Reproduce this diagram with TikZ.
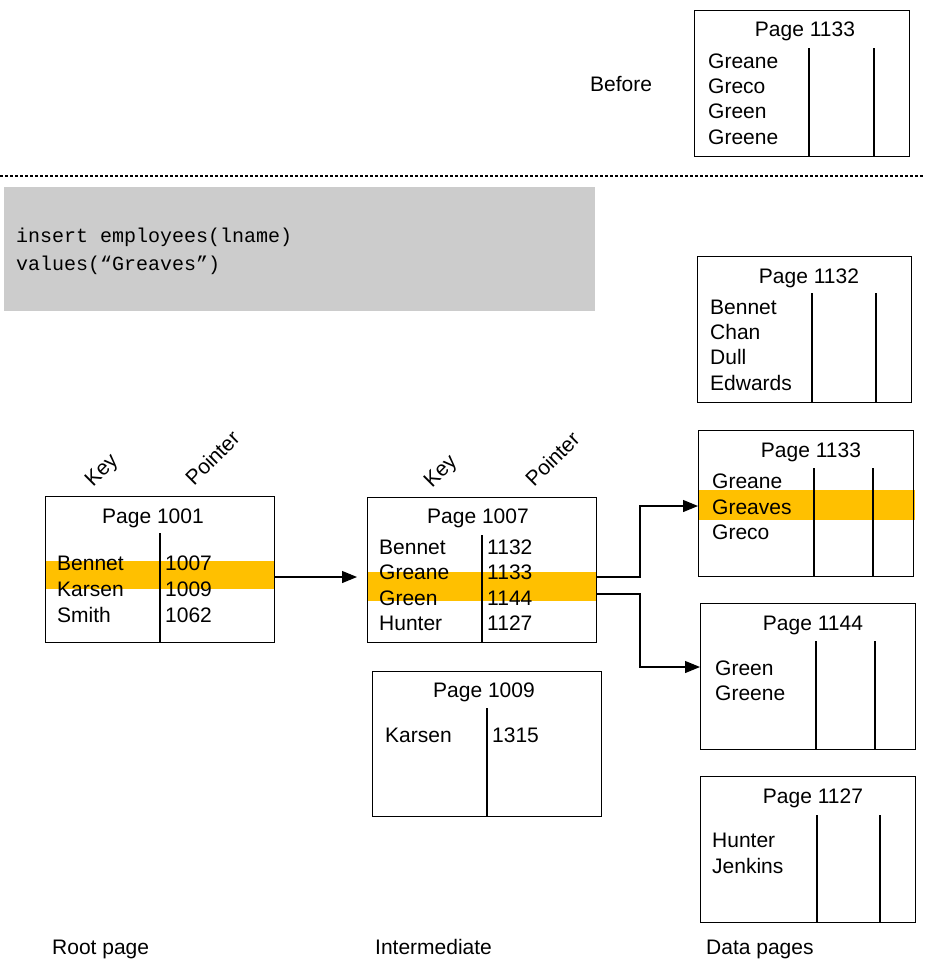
\documentclass[tikz,border=0pt]{standalone}
\usepackage{fontspec}
\setmainfont{Liberation Sans}
\setmonofont{Liberation Mono}
\usetikzlibrary{arrows.meta}
\definecolor{hilite}{HTML}{FFC000}
\definecolor{codegray}{HTML}{CCCCCC}
\tikzset{
  pagebox/.style={draw,line width=1.2pt,anchor=north west,inner sep=0pt},
  txt/.style={anchor=base west,inner sep=0pt,font=\fontsize{21}{25}\selectfont},
  ttl/.style={anchor=base,inner sep=0pt,font=\fontsize{21}{25}\selectfont},
  lbl/.style={txt,rotate=45},
  link/.style={line width=1.2pt,-{Triangle[length=15pt,width=12pt]}},
  sep/.style={line width=1.2pt}
}
\begin{document}
\begin{tikzpicture}[x=1pt,y=-1pt]
  \useasboundingbox (0,0) rectangle (925,961);
  % before
  \node[txt] (before) at (590,91) {Before};
  \node[pagebox,minimum width=215pt,minimum height=146pt] (b1133) at (694,10) {};
  \node[ttl] (tb1133) at (805,36) {Page 1133};
  \node[txt] (b1) at (708,68) {Greane};
  \node[txt] (b2) at (708,93) {Greco};
  \node[txt] (b3) at (708,118) {Green};
  \node[txt] (b4) at (708,144) {Greene};
  \draw[sep] (809,48) -- (809,156);
  \draw[sep] (874,48) -- (874,156);
  \draw[line width=1.5pt,dash pattern=on 3pt off 2pt] (0,176) -- (925,176);
  % statement
  \fill[codegray] (4,187) rectangle (595,311);
  \node[txt,font=\ttfamily\fontsize{20}{24}\selectfont] (sql1) at (16,242) {insert employees(lname)};
  \node[txt,font=\ttfamily\fontsize{20}{24}\selectfont] (sql2) at (16,270) {values(“Greaves”)};
  % highlights
  \fill[hilite] (45,561) rectangle (274,589);
  \fill[hilite] (367,572) rectangle (596,601);
  \fill[hilite] (698,490) rectangle (915,520);
  % root page
  \node[lbl] (key1) at (93,488) {Key};
  \node[lbl] (ptr1) at (194,487) {Pointer};
  \node[pagebox,minimum width=229pt,minimum height=146pt] (p1001) at (45,496) {};
  \node[ttl] (t1001) at (153,523) {Page 1001};
  \draw[sep] (160,533) -- (160,642);
  \node[txt] (r1) at (57,570) {Bennet};
  \node[txt] (r2) at (57,596) {Karsen};
  \node[txt] (r3) at (57,622) {Smith};
  \node[txt] (rp1) at (165,570) {1007};
  \node[txt] (rp2) at (165,596) {1009};
  \node[txt] (rp3) at (165,622) {1062};
  % intermediate
  \node[lbl] (key2) at (432,489) {Key};
  \node[lbl] (ptr2) at (534,488) {Pointer};
  \node[pagebox,minimum width=229pt,minimum height=145pt] (p1007) at (367,497) {};
  \node[ttl] (t1007) at (478,523) {Page 1007};
  \draw[sep] (482,535) -- (482,642);
  \node[txt] (i1) at (379,554) {Bennet};
  \node[txt] (i2) at (379,579) {Greane};
  \node[txt] (i3) at (379,605) {Green};
  \node[txt] (i4) at (379,630) {Hunter};
  \node[txt] (ip1) at (487,554) {1132};
  \node[txt] (ip2) at (487,579) {1133};
  \node[txt] (ip3) at (487,605) {1144};
  \node[txt] (ip4) at (487,630) {1127};
  \node[pagebox,minimum width=229pt,minimum height=145pt] (p1009) at (372,671) {};
  \node[ttl] (t1009) at (484,697) {Page 1009};
  \draw[sep] (487,708) -- (487,816);
  \node[txt] (j1) at (385,742) {Karsen};
  \node[txt] (jp1) at (492,742) {1315};
  % data pages
  \node[pagebox,minimum width=214pt,minimum height=146pt] (p1132) at (697,256) {};
  \node[ttl] (t1132) at (809,283) {Page 1132};
  \draw[sep] (812,293) -- (812,402);
  \draw[sep] (876,293) -- (876,402);
  \node[txt] (d1) at (710,314) {Bennet};
  \node[txt] (d2) at (710,339) {Chan};
  \node[txt] (d3) at (710,364) {Dull};
  \node[txt] (d4) at (710,390) {Edwards};
  \node[pagebox,minimum width=215pt,minimum height=146pt] (p1133) at (698,430) {};
  \node[ttl] (t1133) at (811,457) {Page 1133};
  \draw[sep] (814,468) -- (814,576);
  \draw[sep] (873,468) -- (873,576);
  \node[txt] (e1) at (712,488) {Greane};
  \node[txt] (e2) at (712,514) {Greaves};
  \node[txt] (e3) at (712,539) {Greco};
  \node[pagebox,minimum width=215pt,minimum height=146pt] (p1144) at (700,603) {};
  \node[ttl] (t1144) at (813,630) {Page 1144};
  \draw[sep] (816,641) -- (816,749);
  \draw[sep] (875,641) -- (875,749);
  \node[txt] (f1) at (715,675) {Green};
  \node[txt] (f2) at (715,700) {Greene};
  \node[pagebox,minimum width=215pt,minimum height=146pt] (p1127) at (700,776) {};
  \node[ttl] (t1127) at (813,803) {Page 1127};
  \draw[sep] (817,815) -- (817,922);
  \draw[sep] (880,815) -- (880,922);
  \node[txt] (g1) at (712,847) {Hunter};
  \node[txt] (g2) at (712,873) {Jenkins};
  % connectors
  \coordinate (o1007) at (274,577);
  \coordinate (in1007) at (357,577);
  \coordinate (o1133) at (596,577);
  \coordinate (o1144) at (596,594);
  \coordinate (in1133) at (698,506);
  \coordinate (in1144) at (700,667);
  \draw[link] (o1007) -- (in1007);
  \draw[link] (o1133) -- (640,577) |- (in1133);
  \draw[link] (o1144) -- (640,594) |- (in1144);
  % captions
  \node[txt] (cap1) at (52,954) {Root page};
  \node[txt] (cap2) at (375,954) {Intermediate};
  \node[txt] (cap3) at (706,954) {Data pages};
\end{tikzpicture}
\end{document}
